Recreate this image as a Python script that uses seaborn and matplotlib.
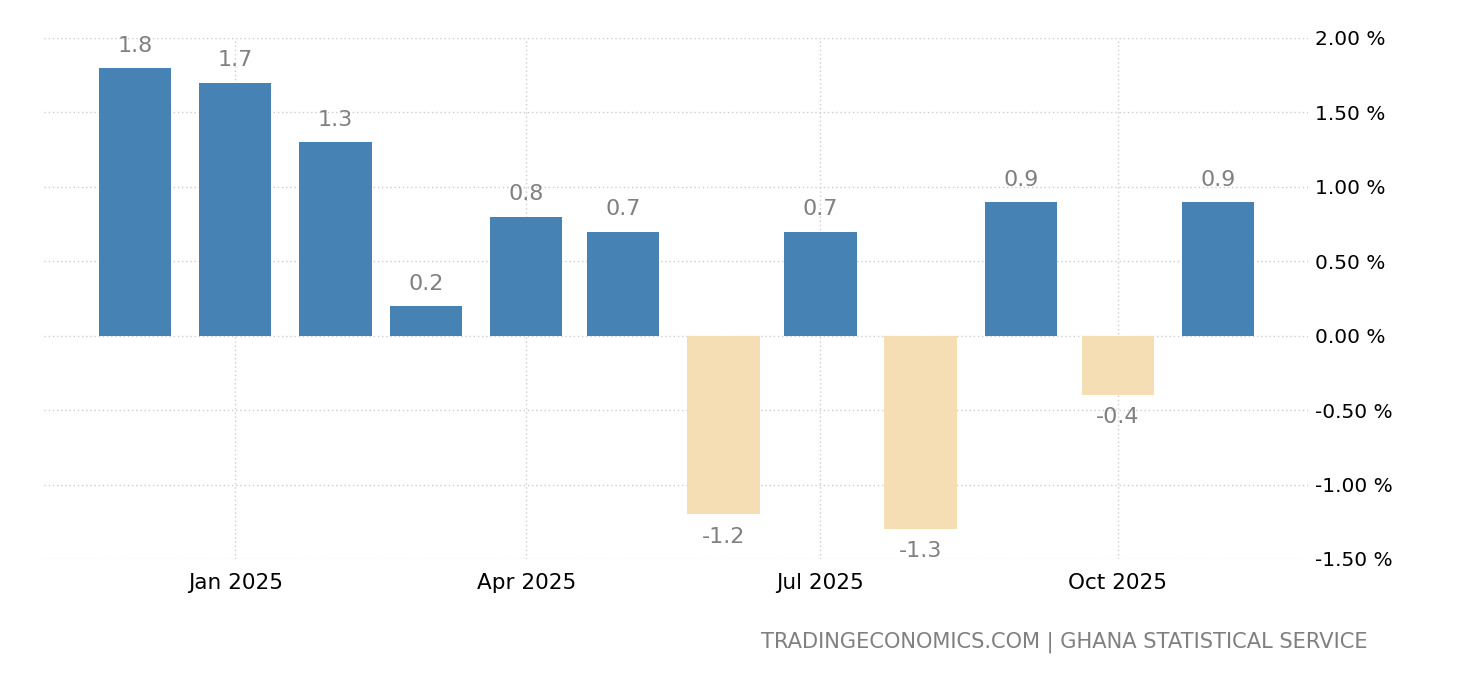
import matplotlib
matplotlib.use('Agg')
import matplotlib.pyplot as plt
import matplotlib.dates as mdates
import seaborn as sns
import pandas as pd
import numpy as np

# valores mensais (%), dez/2024 a nov/2025
meses = ['2024-12-01', '2025-01-01', '2025-02-01', '2025-03-01', '2025-04-01', '2025-05-01',
         '2025-06-01', '2025-07-01', '2025-08-01', '2025-09-01', '2025-10-01', '2025-11-01']
valores = [1.8, 1.7, 1.3, 0.2, 0.8, 0.7, -1.2, 0.7, -1.3, 0.9, -0.4, 0.9]

ticks_x = ['2025-01-01', '2025-04-01', '2025-07-01', '2025-10-01']
ticks_y = [-1.5, -1.0, -0.5, 0.0, 0.5, 1.0, 1.5, 2.0]

AZUL = '#4682b4'
BEGE = '#f5deb3'

sns.set_style('white')
plt.rcParams['font.family'] = ['DejaVu Sans']

df = pd.DataFrame({'data': pd.to_datetime(meses), 'valor': valores})
df['x'] = mdates.date2num(df['data'])
df['sinal'] = np.where(df['valor'] >= 0, 'pos', 'neg')

fig = plt.figure(figsize=(14.6, 6.8), dpi=100)
ax = fig.add_axes([44 / 1460, 1 - 559 / 680, (1308 - 44) / 1460, (559 - 38) / 680])

sns.barplot(data=df, x='x', y='valor', hue='sinal', palette={'pos': AZUL, 'neg': BEGE},
            native_scale=True, dodge=False, width=0.8, legend=False, ax=ax,
            saturation=1, linewidth=0)

ax.set_xlim(mdates.date2num(pd.Timestamp('2024-11-02 20:00')),
            mdates.date2num(pd.Timestamp('2025-11-28 20:00')))
ax.set_ylim(-1.5, 2.0)

ax.set_xticks(mdates.date2num(pd.to_datetime(ticks_x)))
ax.set_xticklabels([pd.Timestamp(t).strftime('%b %Y') for t in ticks_x], fontsize=15.5, color='black')
ax.set_yticks(ticks_y)
ax.set_yticklabels([f'{v:.2f} %' for v in ticks_y], fontsize=14.5, color='black')
ax.yaxis.tick_right()
ax.tick_params(axis='y', length=0, pad=5)
ax.tick_params(axis='x', length=7, color='#cccccc', width=1, pad=3)
for lab in ax.get_yticklabels():
    lab.set_horizontalalignment('left')

ax.grid(True, color='#cccccc', linestyle=(0, (1, 2)), linewidth=1)
ax.set_axisbelow(True)
for s in ax.spines.values():
    s.set_visible(False)
ax.set_xlabel('')
ax.set_ylabel('')

for x, v in zip(df['x'], df['valor']):
    off = 16 if v >= 0 else -16
    ax.annotate(f'{v:.1f}', (x, v), xytext=(0, off), textcoords='offset points',
                ha='center', va='center', fontsize=16, color='#808080')

fig.text(1368 / 1460, 1 - 642 / 680, 'TRADINGECONOMICS.COM | GHANA STATISTICAL SERVICE',
         ha='right', va='center', fontsize=15.1, color='#808080')

fig.savefig('out.png', dpi=100)
